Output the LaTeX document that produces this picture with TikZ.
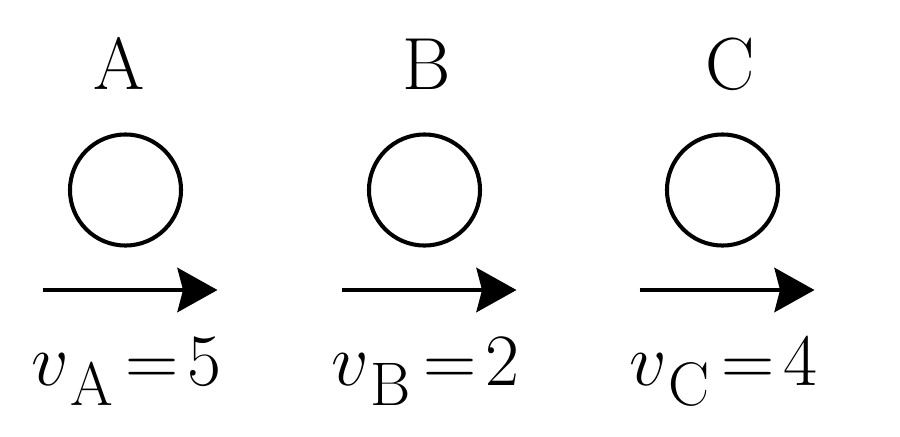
\RequirePackage{fix-cm}
\documentclass[tikz,border=0pt]{standalone}
\usepackage{fontspec}
\usetikzlibrary{arrows.meta, positioning}
\newcommand{\speed}[2]{$v$\kern0.5pt\raisebox{-5.7pt}{\fontsize{17.5}{18}\selectfont #1}\kern3.5pt$=$\kern2.5pt#2}
\tikzset{%
  ball/.style={draw, circle, minimum size=1.11cm, inner sep=0mm, line width=1.15pt},
  tag/.style={inner sep=0pt, anchor=base, font=\fontsize{21}{25}\selectfont},
  move/.style={-{Stealth[length=11.4pt, width=12.6pt, inset=1.6pt]}, line width=1.15pt}
}
\begin{document}
\begin{tikzpicture}[x=0.01cm, y=-0.01cm]
  \useasboundingbox (0,0) rectangle (900,436);
  \foreach \name/\cx/\lx/\val in {A/125.5/119/5, B/424.5/427/2, C/722.5/730/4} {
    \node[tag] (lbl\name) at (\lx,89) {\name};
    \node[ball] (ball\name) at (\cx,190) {};
    \coordinate (from\name) at (\cx-83,290);
    \coordinate (to\name) at (\cx+92,290);
    \draw[move] (from\name) -- (to\name);
    \node[tag] (vel\name) at (\cx+1,385) {\speed{\name}{\val}};
  }
\end{tikzpicture}
\end{document}
